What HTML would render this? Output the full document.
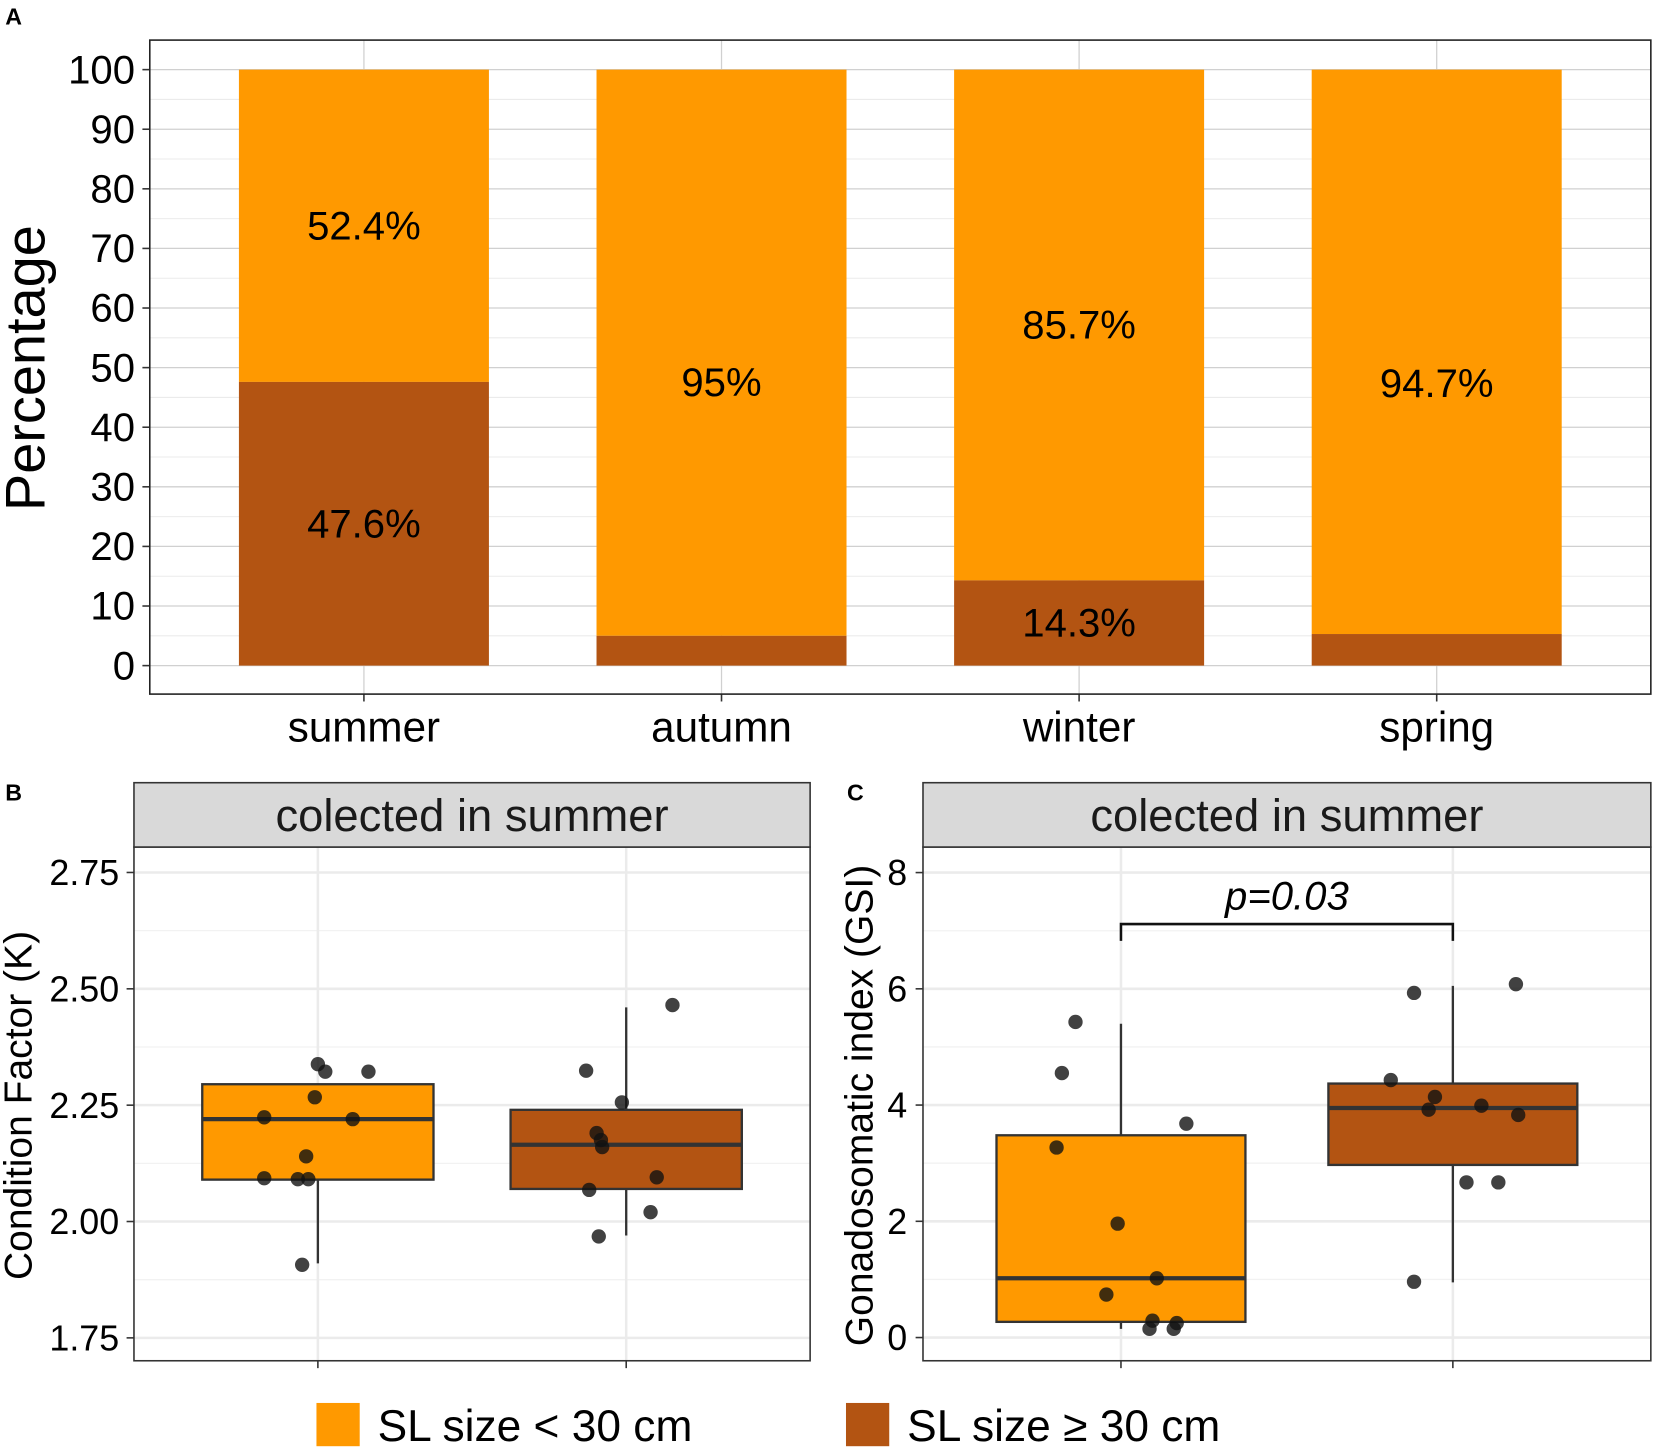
<!DOCTYPE html>
<html><head><meta charset="utf-8"><style>
html,body{margin:0;padding:0;background:#fff}
svg{display:block;font-family:"Liberation Sans",Arial,sans-serif}
</style></head><body>
<svg id="fig" width="1654" height="1448" viewBox="0 0 1568 1372.7" xmlns="http://www.w3.org/2000/svg"></svg>
<script>
// ---- Panel A data ----
const seasons = ["summer","autumn","winter","spring"];
const smallPct = [52.4, 95, 85.7, 94.7];
const largePct = [47.6, 5, 14.3, 5.3];
const topLabels = ["52.4%","95%","85.7%","94.7%"];
const topLabelY = [73.8, 47.5, 57.15, 47.35];
const botLabels = ["47.6%","","14.3%",""];
const botLabelY = [23.8, 0, 7.15, 0];
const pctTicks = [0,10,20,30,40,50,60,70,80,90,100];
// ---- Panel B data ----
const kBox = [[1.91,2.09,2.22,2.295,2.295],[1.97,2.07,2.165,2.24,2.46]];
const kPts0 = [2.338,2.322,2.322,2.267,2.224,2.22,2.14,2.093,2.091,2.091,1.907];
const kJit0 = [0,0.024,0.164,-0.01,-0.174,0.113,-0.038,-0.174,-0.065,-0.031,-0.051];
const kPts1 = [2.465,2.324,2.256,2.19,2.175,2.16,2.095,2.068,2.02,1.968];
const kJit1 = [0.15,-0.13,-0.014,-0.096,-0.082,-0.078,0.099,-0.120,0.079,-0.089];
const kTicks = [1.75,2.00,2.25,2.50,2.75];
// ---- Panel C data ----
const gBox = [[0.15,0.27,1.02,3.48,5.4],[0.95,2.97,3.95,4.37,6.05]];
const gPts0 = [5.43,4.55,3.68,3.27,1.96,1.02,0.74,0.29,0.25,0.15,0.15];
const gJit0 = [-0.137,-0.178,0.197,-0.194,-0.01,0.108,-0.044,0.095,0.168,0.086,0.159];
const gPts1 = [6.08,5.93,4.43,4.14,3.92,3.99,3.83,2.67,2.67,0.96];
const gJit1 = [0.19,-0.117,-0.187,-0.054,-0.073,0.086,0.197,0.041,0.137,-0.117];
const gTicks = [0,2,4,6,8];

const NS="http://www.w3.org/2000/svg";
const svg=document.getElementById('fig');
function el(tag,attrs,parent,text){const e=document.createElementNS(NS,tag);for(const k in attrs)e.setAttribute(k,attrs[k]);if(text!==undefined)e.textContent=text;(parent||svg).appendChild(e);return e;}
const ORANGE="#FF9900", BROWN="#B35412";

let t;
t=el('text',{x:5,y:23,'font-size':22,'font-weight':'bold'},svg,'A');
t=el('text',{x:5,y:759,'font-size':22,'font-weight':'bold'},svg,'B');
t=el('text',{x:803,y:759,'font-size':22,'font-weight':'bold'},svg,'C');

// ===== Panel A =====
const gA=el('g',{});
const aL=142,aR=1565,aT=38,aB=658;
const yA=v=>631-v*5.65;
const xA=i=>345+i*339;
for(let v=5;v<=95;v+=10)el('line',{x1:aL,x2:aR,y1:yA(v),y2:yA(v),stroke:'#ebebeb','stroke-width':1},gA);
for(const v of pctTicks){el('line',{x1:aL,x2:aR,y1:yA(v),y2:yA(v),stroke:'#d0d0d0','stroke-width':1.2},gA);
 el('line',{x1:aL-7,x2:aL,y1:yA(v),y2:yA(v),stroke:'#333','stroke-width':1.5},gA);
 t=el('text',{x:128,y:yA(v)+13,'font-size':38,'text-anchor':'end'},gA,v);}
seasons.forEach((s,i)=>{el('line',{x1:xA(i),x2:xA(i),y1:aT,y2:aB,stroke:'#d0d0d0','stroke-width':1.2},gA);});
seasons.forEach((s,i)=>{
 const x=xA(i)-118.5;
 let r=el('rect',{x:x,y:yA(100),width:237,height:yA(largePct[i])-yA(100),fill:ORANGE},gA);
 r=el('rect',{x:x,y:yA(largePct[i]),width:237,height:yA(0)-yA(largePct[i]),fill:BROWN},gA);
 t=el('text',{x:xA(i),y:yA(topLabelY[i])+13,'font-size':38,'text-anchor':'middle'},gA,topLabels[i]);
 if(botLabels[i]){t=el('text',{x:xA(i),y:yA(botLabelY[i])+13,'font-size':38,'text-anchor':'middle'},gA,botLabels[i]);}
 el('line',{x1:xA(i),x2:xA(i),y1:aB,y2:aB+7,stroke:'#333','stroke-width':1.5},gA);
 t=el('text',{x:xA(i),y:703,'font-size':40,'text-anchor':'middle'},gA,s);
});
el('rect',{x:aL,y:aT,width:aR-aL,height:aB-aT,fill:'none',stroke:'#222','stroke-width':1.5},gA);
t=el('text',{x:0,y:0,'font-size':53,'text-anchor':'middle',transform:'translate(42,349) rotate(-90)'},gA,'Percentage');

// ===== Box panels =====
function boxPanel(name,L,R,stripText,yfun,ticks,fmt,boxes,pts,jits,title,titleX,tickX){
 const g=el('g',{});
 const T=803,B=1290;
 const cx=[L+(R-L)*0.272,L+(R-L)*0.728];
 const bw=(R-L)*0.342;
 for(let k=0;k<ticks.length-1;k++){const m=(ticks[k]+ticks[k+1])/2;el('line',{x1:L,x2:R,y1:yfun(m),y2:yfun(m),stroke:'#f2f2f2','stroke-width':1.2},g);}
 for(const v of ticks){el('line',{x1:L,x2:R,y1:yfun(v),y2:yfun(v),stroke:'#ebebeb','stroke-width':2.4},g);
  el('line',{x1:L-7,x2:L,y1:yfun(v),y2:yfun(v),stroke:'#333','stroke-width':1.5},g);
  t=el('text',{x:tickX,y:yfun(v)+12,'font-size':34,'text-anchor':'end'},g,fmt(v));}
 cx.forEach(c=>{el('line',{x1:c,x2:c,y1:T,y2:B,stroke:'#ebebeb','stroke-width':2.4},g);el('line',{x1:c,x2:c,y1:B,y2:B+7,stroke:'#333','stroke-width':1.5},g);});
 const fills=[ORANGE,BROWN];
 boxes.forEach((b,i)=>{
  const bg=el('g',{},g);
  el('line',{x1:cx[i],x2:cx[i],y1:yfun(b[0]),y2:yfun(b[4]),stroke:'#333','stroke-width':2.2},bg);
  el('rect',{x:cx[i]-bw/2,y:yfun(b[3]),width:bw,height:yfun(b[1])-yfun(b[3]),fill:fills[i],stroke:'#333','stroke-width':2.2},bg);
  el('line',{x1:cx[i]-bw/2,x2:cx[i]+bw/2,y1:yfun(b[2]),y2:yfun(b[2]),stroke:'#333','stroke-width':4},bg);
 });
 pts.forEach((arr,i)=>arr.forEach((v,j)=>{
  const p=el('circle',{cx:cx[i]+jits[i][j]*(cx[1]-cx[0]),cy:yfun(v),r:6.8,fill:'#111','fill-opacity':0.8},g);
  
 }));
 el('rect',{x:L,y:T,width:R-L,height:B-T,fill:'none',stroke:'#333','stroke-width':1.5},g);
 const s=el('rect',{x:L,y:742,width:R-L,height:61,fill:'#d9d9d9',stroke:'#333','stroke-width':1.5},g);
 t=el('text',{x:(L+R)/2,y:788,'font-size':43,'text-anchor':'middle',fill:'#1a1a1a'},g,stripText);
 t=el('text',{x:0,y:0,'font-size':37,'text-anchor':'middle',transform:'translate('+titleX+',1048) rotate(-90)'},g,title);
 return {g,cx};
}
const yB=v=>1158-(v-2)*441.2;
boxPanel('panel-b-condition-factor',127,768,'colected in summer',yB,kTicks,v=>v.toFixed(2),kBox,[kPts0,kPts1],[kJit0,kJit1],'Condition Factor (K)',30,113);
const yC=v=>1268-v*55.1;
const pc=boxPanel('panel-c-gsi',875,1565,'colected in summer',yC,gTicks,v=>String(v),gBox,[gPts0,gPts1],[gJit0,gJit1],'Gonadosomatic index (GSI)',827,860);
const br=el('path',{d:`M${pc.cx[0]},892 V876 H${pc.cx[1]} V892`,fill:'none',stroke:'#111','stroke-width':2.4},pc.g);
t=el('text',{x:(pc.cx[0]+pc.cx[1])/2,y:862,'font-size':38,'font-style':'italic','text-anchor':'middle'},pc.g,'p=0.03');

// ===== Legend =====
const lg=el('g',{});
let k=el('rect',{x:300,y:1330,width:41,height:41,fill:ORANGE},lg);
t=el('text',{x:358,y:1366,'font-size':42},lg,'SL size < 30 cm');
k=el('rect',{x:802,y:1330,width:41,height:41,fill:BROWN},lg);
t=el('text',{x:860,y:1366,'font-size':42},lg,'SL size ≥ 30 cm');
</script>
</body></html>
